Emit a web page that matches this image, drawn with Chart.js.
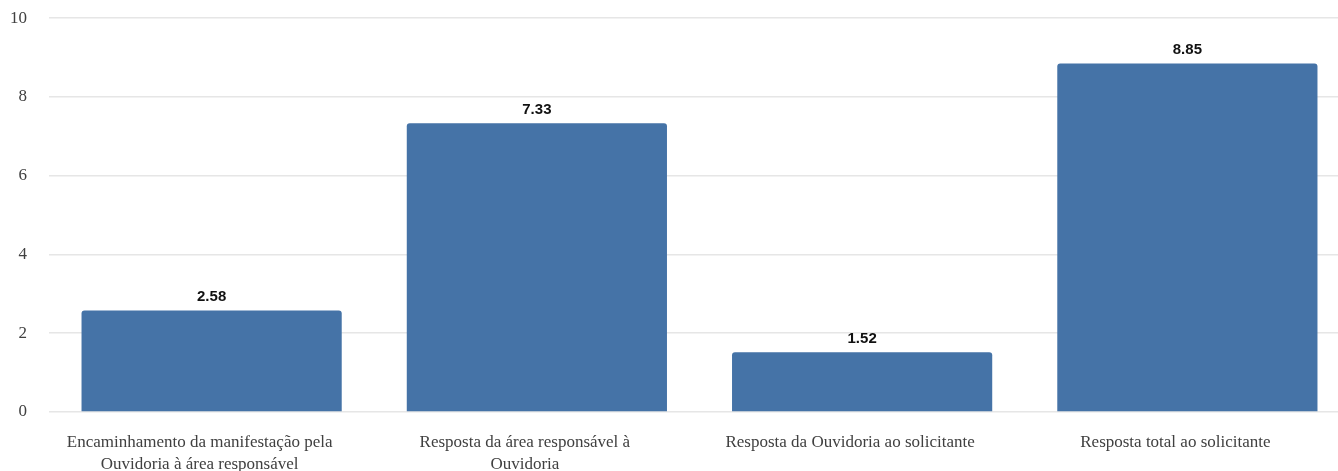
<!DOCTYPE html>
<html><head><meta charset="utf-8">
<script src="https://cdn.jsdelivr.net/npm/chart.js@4"></script>
<style>html,body{margin:0;padding:0;overflow:hidden;background:#fff}#wrap{width:1352px;height:485px;position:relative;top:-14px}</style>
</head><body><div id="wrap"><canvas id="c"></canvas></div>
<script>
const categories = [
  ["Encaminhamento da manifestação pela", "Ouvidoria à área responsável"],
  ["Resposta da área responsável à", "Ouvidoria"],
  ["Resposta da Ouvidoria ao solicitante"],
  ["Resposta total ao solicitante"]
];
const values = [2.58, 7.33, 1.52, 8.85];
const yTicks = [0, 2, 4, 6, 8, 10];

const labelPlugin = {
  id: 'vals',
  afterDatasetsDraw(chart) {
    const ctx = chart.ctx;
    const meta = chart.getDatasetMeta(0);
    ctx.save();
    ctx.font = 'bold 15px "Liberation Sans", Arial, sans-serif';
    ctx.fillStyle = '#111';
    ctx.textAlign = 'center';
    ctx.textBaseline = 'alphabetic';
    meta.data.forEach((bar, i) => {
      ctx.fillText(values[i].toFixed(2), bar.x, bar.y - 9);
    });
    ctx.restore();
  }
};

new Chart(document.getElementById('c'), {
  type: 'bar',
  data: {
    labels: categories,
    datasets: [{
      data: values,
      backgroundColor: '#4573a7',
      borderRadius: 3,
      borderSkipped: 'start',
      categoryPercentage: 0.8,
      barPercentage: 1.0
    }]
  },
  options: {
    responsive: true,
    maintainAspectRatio: false,
    animation: false,
    layout: { padding: { top: 0, right: 2, bottom: 0, left: 0 } },
    plugins: { legend: { display: false }, tooltip: { enabled: false } },
    scales: {
      x: {
        grid: { display: false, drawTicks: false },
        border: { display: false },
        afterFit(s) { s.height = 59; },
        ticks: {
          color: '#404040',
          padding: 19,
          labelOffset: -12,
          maxRotation: 0,
          autoSkip: false,
          font: { family: '"Liberation Serif", "Times New Roman", serif', size: 17, lineHeight: 1.3 }
        }
      },
      y: {
        min: 0, max: 10,
        afterFit(s) { s.width = 49; },
        afterBuildTicks(s) { s.ticks = yTicks.map(v => ({ value: v })); },
        grid: { color: '#e6e6e6', lineWidth: 1.5, drawTicks: false },
        border: { display: false },
        ticks: {
          color: '#404040',
          padding: 22,
          font: { family: '"Liberation Serif", "Times New Roman", serif', size: 17 }
        }
      }
    }
  },
  plugins: [labelPlugin]
});
</script></body></html>
